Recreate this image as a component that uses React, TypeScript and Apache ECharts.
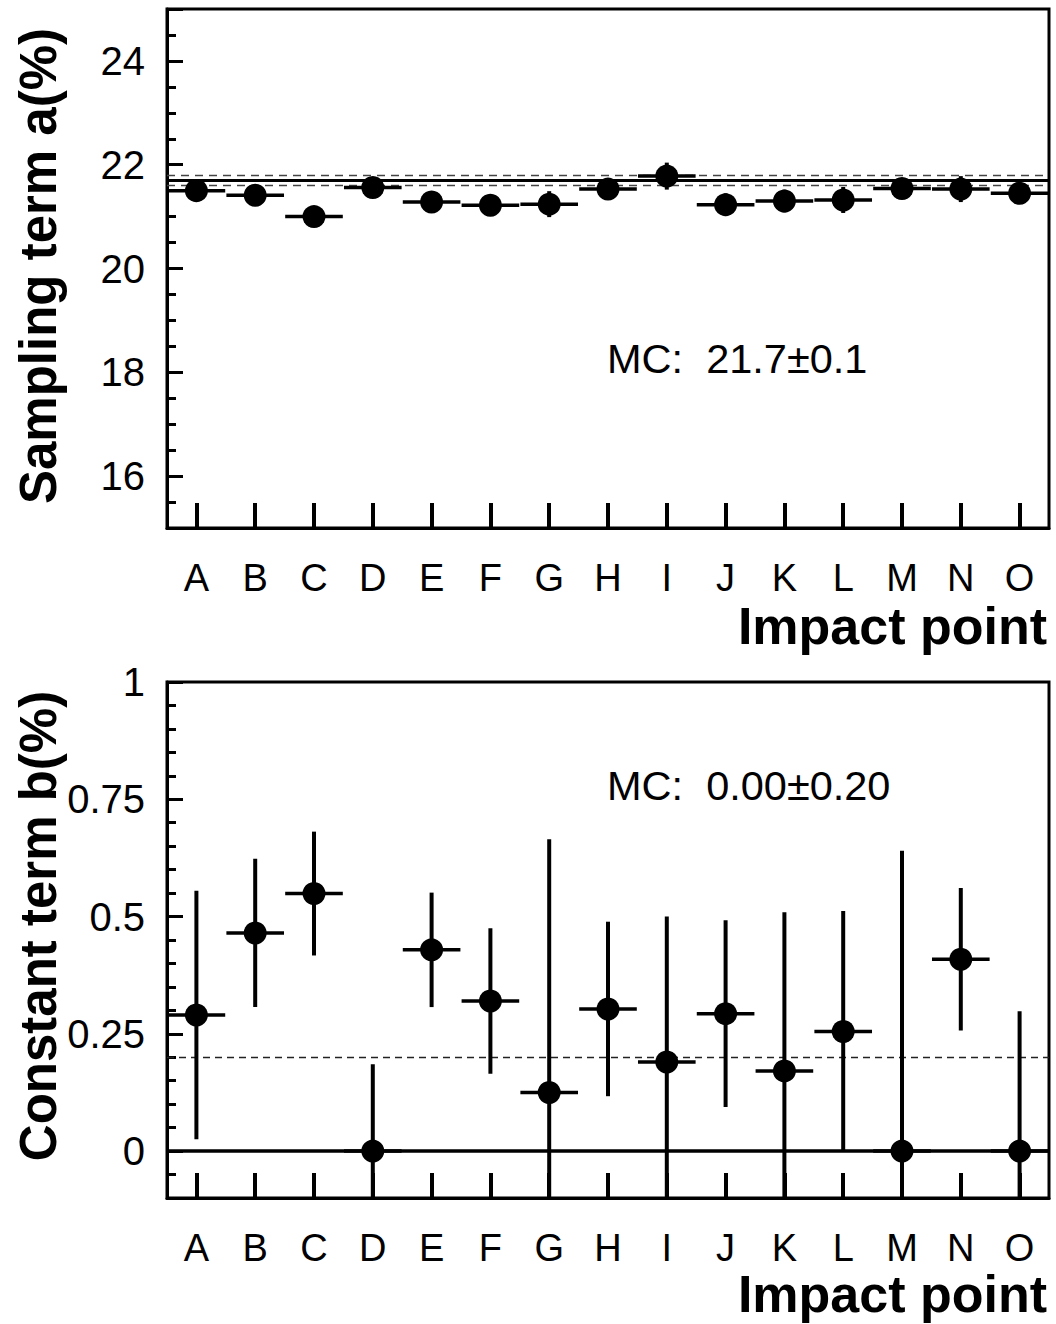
import * as React from "react";
import * as echarts from "echarts";

const FONT = "'Liberation Sans', Arial, Helvetica, sans-serif";

// impact points along the calorimeter
const points = ["A", "B", "C", "D", "E", "F", "G", "H", "I", "J", "K", "L", "M", "N", "O"];

// sampling term a (%) with errors
const samplingValues = [21.5, 21.41, 21.0, 21.56, 21.28, 21.22, 21.24, 21.53, 21.78, 21.23, 21.3, 21.32, 21.54, 21.53, 21.45];
const samplingErrors = [0.2, 0.2, 0.18, 0.2, 0.2, 0.2, 0.25, 0.2, 0.26, 0.22, 0.22, 0.25, 0.2, 0.25, 0.2];

// constant term b (%) with errors
const constantValues = [0.29, 0.465, 0.549, 0.0, 0.429, 0.32, 0.125, 0.303, 0.19, 0.293, 0.171, 0.255, 0.0, 0.409, 0.0];
const constantErrors = [0.265, 0.158, 0.132, 0.185, 0.122, 0.155, 0.54, 0.186, 0.31, 0.199, 0.338, 0.257, 0.64, 0.152, 0.298];

// Monte Carlo expectation
const samplingMC = 21.7;
const samplingMCErr = 0.1;
const constantMC = 0.0;
const constantMCErr = 0.2;

function errorBars(values: number[], errors: number[]) {
  return values.map((v, i) => [i, v, errors[i]]);
}

const renderErr = (params: any, api: any) => {
  const x = api.value(0);
  const y = api.value(1);
  const e = api.value(2);
  const c = api.coord([x, y]);
  const hi = api.coord([x, y + e]);
  const lo = api.coord([x, y - e]);
  const bw = api.size([1, 0])[0];
  const cs = params.coordSys;
  const clamp = (v: number) => Math.max(cs.y, Math.min(cs.y + cs.height, v));
  return {
    type: "group",
    children: [
      { type: "line", shape: { x1: c[0], y1: clamp(hi[1]), x2: c[0], y2: clamp(lo[1]) }, style: { stroke: "#000", lineWidth: 4 } },
      { type: "line", shape: { x1: c[0] - bw * 0.49, y1: c[1], x2: c[0] + bw * 0.49, y2: c[1] }, style: { stroke: "#000", lineWidth: 3.5 } },
    ],
  };
};

function xAxisFor(gridIndex: number) {
  return {
    type: "category",
    gridIndex,
    data: points,
    axisLine: { show: true, onZero: false, lineStyle: { color: "#000", width: 3 } },
    axisTick: { show: true, inside: true, alignWithLabel: true, interval: 0, length: 25, lineStyle: { color: "#000", width: 4 } },
    axisLabel: { color: "#000", fontSize: 38, fontFamily: FONT, margin: 31, interval: 0 },
    splitLine: { show: false },
  };
}

export default function App() {
  const ref = React.useRef<HTMLDivElement>(null);
  React.useEffect(() => {
    if (!ref.current) return;
    const chart = echarts.init(ref.current as HTMLDivElement, undefined, { renderer: "svg" });
    const yCommon = {
      type: "value",
      axisLine: { show: true, onZero: false, lineStyle: { color: "#000", width: 3 } },
      axisTick: { show: true, inside: true, length: 16, lineStyle: { color: "#000", width: 3 } },
      minorTick: { show: true, length: 9, lineStyle: { color: "#000", width: 3 } },
      splitLine: { show: false },
      minorSplitLine: { show: false },
    };
    chart.setOption({
      animation: false,
      backgroundColor: "#fff",
      grid: [
        { left: 167, top: 9, width: 882, height: 519, show: true, borderColor: "#000", borderWidth: 3 },
        { left: 167, top: 682, width: 882, height: 516, show: true, borderColor: "#000", borderWidth: 3 },
      ],
      xAxis: [xAxisFor(0), xAxisFor(1)],
      yAxis: [
        {
          ...yCommon,
          gridIndex: 0,
          min: 15,
          max: 25,
          minInterval: 2,
          maxInterval: 2,
          minorTick: { ...yCommon.minorTick, splitNumber: 4 },
          axisLabel: {
            color: "#000", fontSize: 40, fontFamily: FONT, margin: 22,
            showMinLabel: false, showMaxLabel: false,
            formatter: (v: number) => (v % 2 === 0 ? String(v) : ""),
          },
        },
        {
          ...yCommon,
          gridIndex: 1,
          min: -0.1,
          max: 1,
          minInterval: 0.25,
          maxInterval: 0.25,
          minorTick: { ...yCommon.minorTick, splitNumber: 5 },
          axisLabel: {
            color: "#000", fontSize: 40, fontFamily: FONT, margin: 22,
            showMinLabel: false,
            formatter: (v: number) => (v < 0 ? "" : String(v)),
          },
        },
      ],
      series: [
        {
          type: "custom", xAxisIndex: 0, yAxisIndex: 0, z: 3,
          data: errorBars(samplingValues, samplingErrors),
          encode: { x: 0, y: 1 },
          renderItem: renderErr,
        },
        {
          type: "scatter", xAxisIndex: 0, yAxisIndex: 0, z: 4,
          symbol: "circle", symbolSize: 23,
          itemStyle: { color: "#000", opacity: 1 },
          data: samplingValues.map((v, i) => [i, v]),
          markLine: {
            silent: true, symbol: ["none", "none"], label: { show: false }, z: 2,
            data: [
              { yAxis: samplingMC, lineStyle: { color: "#000", type: "solid", width: 3, opacity: 1 } },
              { yAxis: samplingMC + samplingMCErr, lineStyle: { color: "#444", type: [8, 6], width: 1.3, opacity: 1 } },
              { yAxis: samplingMC - samplingMCErr, lineStyle: { color: "#444", type: [8, 6], width: 1.3, opacity: 1 } },
            ],
          },
        },
        {
          type: "custom", xAxisIndex: 1, yAxisIndex: 1, z: 3,
          data: errorBars(constantValues, constantErrors),
          encode: { x: 0, y: 1 },
          renderItem: renderErr,
        },
        {
          type: "scatter", xAxisIndex: 1, yAxisIndex: 1, z: 4,
          symbol: "circle", symbolSize: 23,
          itemStyle: { color: "#000", opacity: 1 },
          data: constantValues.map((v, i) => [i, v]),
          markLine: {
            silent: true, symbol: ["none", "none"], label: { show: false }, z: 2,
            data: [
              { yAxis: constantMC, lineStyle: { color: "#000", type: "solid", width: 3.5, opacity: 1 } },
              { yAxis: constantMC + constantMCErr, lineStyle: { color: "#222", type: [7, 5], width: 1.3, opacity: 1 } },
            ],
          },
        },
      ],
      graphic: [
        {
          type: "text", x: 38, y: 266, rotation: Math.PI / 2,
          style: { text: "Sampling term a(%)", font: `bold 51px ${FONT}`, fill: "#000", textAlign: "center", textVerticalAlign: "middle", align: "center", verticalAlign: "middle" },
        },
        {
          type: "text", x: 38, y: 926, rotation: Math.PI / 2,
          style: { text: "Constant term b(%)", font: `bold 51px ${FONT}`, fill: "#000", textAlign: "center", textVerticalAlign: "middle", align: "center", verticalAlign: "middle" },
        },
        {
          type: "text", x: 1047, y: 626,
          style: { text: "Impact point", font: `bold 52px ${FONT}`, fill: "#000", textAlign: "right", textVerticalAlign: "middle", align: "right", verticalAlign: "middle" },
        },
        {
          type: "text", x: 1047, y: 1294,
          style: { text: "Impact point", font: `bold 52px ${FONT}`, fill: "#000", textAlign: "right", textVerticalAlign: "middle", align: "right", verticalAlign: "middle" },
        },
        {
          type: "text", x: 607, y: 358,
          style: { text: `MC:  ${samplingMC.toFixed(1)}±${samplingMCErr.toFixed(1)}`, font: `41.5px ${FONT}`, fill: "#000", textAlign: "left", textVerticalAlign: "middle", align: "left", verticalAlign: "middle" },
        },
        {
          type: "text", x: 607, y: 785,
          style: { text: `MC:  ${constantMC.toFixed(2)}±${constantMCErr.toFixed(2)}`, font: `41.5px ${FONT}`, fill: "#000", textAlign: "left", textVerticalAlign: "middle", align: "left", verticalAlign: "middle" },
        },
      ],
    });
    return () => chart.dispose();
  }, []);
  return <div ref={ref} style={{ position: "absolute", left: 0, top: 0, width: 1056, height: 1324 }} />;
}
